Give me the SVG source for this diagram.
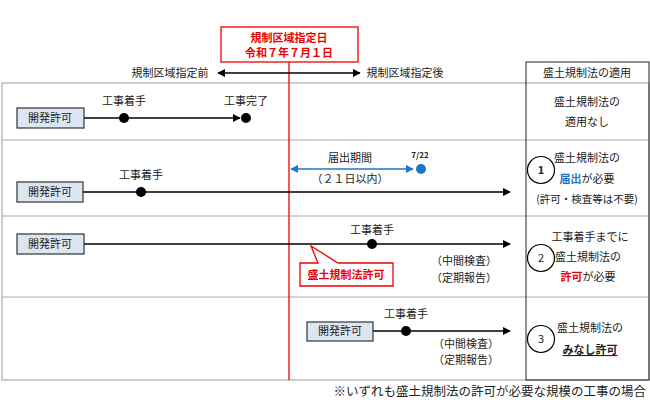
<svg xmlns="http://www.w3.org/2000/svg" width="650" height="400" viewBox="0 0 650 400">
<style>
text{font-family:"Noto Sans CJK JP","Noto Sans",sans-serif;font-size:11px;fill:#222;text-anchor:middle}
.box rect{fill:#dce6f2;stroke:#333;stroke-width:1.2}
.ln{stroke:#000;stroke-width:1.3;fill:none}
.sep{stroke:#aaa;stroke-width:1.2}
.b{font-weight:bold}
</style>
<defs>
<marker id="ah" viewBox="0 0 10 10" refX="9" refY="5" markerWidth="6" markerHeight="6" orient="auto-start-reverse"><path d="M0,0L10,5L0,10z" fill="#000"/></marker>
<marker id="ahb" viewBox="0 0 10 10" refX="9" refY="5" markerWidth="6" markerHeight="6" orient="auto-start-reverse"><path d="M0,0L10,5L0,10z" fill="#1f77c4"/></marker>
</defs>
<g id="frame">
<rect x="2" y="83" width="647" height="297" fill="none" stroke="#aaa" stroke-width="1.2"/>
<line class="sep" x1="2" y1="140" x2="649" y2="140"/>
<line class="sep" x1="2" y1="216" x2="649" y2="216"/>
<line class="sep" x1="2" y1="297" x2="649" y2="297"/>
<rect x="526" y="62" width="123" height="318" fill="none" stroke="#222" stroke-width="1"/>
<text x="587" y="77">盛土規制法の適用</text>
</g>
<g id="dateLabel">
<rect x="221" y="27" width="137" height="35" fill="#fff" stroke="#e00" stroke-width="1.3"/>
<text x="289" y="42" style="fill:#e00" class="b">規制区域指定日</text>
<text x="289" y="57" style="fill:#e00" class="b">令和７年７月１日</text>
<line x1="289" y1="62" x2="289" y2="380" stroke="#e00" stroke-width="1.3"/>
</g>
<g id="header">
<text x="170" y="77">規制区域指定前</text>
<text x="405" y="77">規制区域指定後</text>
</g>
<g id="connectors">
<line class="ln" x1="218" y1="73" x2="360" y2="73" marker-start="url(#ah)" marker-end="url(#ah)"/>
<line class="ln" x1="84" y1="118" x2="240" y2="118" marker-end="url(#ah)"/>
<line class="ln" x1="83" y1="192" x2="510" y2="192" marker-end="url(#ah)"/>
<line x1="291" y1="169" x2="413" y2="169" stroke="#1f77c4" stroke-width="1.3" marker-start="url(#ahb)" marker-end="url(#ahb)"/>
<line class="ln" x1="84" y1="244" x2="510" y2="244" marker-end="url(#ah)"/>
<line class="ln" x1="372" y1="331" x2="510" y2="331" marker-end="url(#ah)"/>
</g>
<g id="row1">
<g class="box"><rect x="17" y="108" width="67" height="20"/></g>
<text x="50" y="122">開発許可</text>
<circle cx="124" cy="118" r="5"/><circle cx="246" cy="118" r="5"/>
<text x="124" y="105">工事着手</text><text x="246" y="105">工事完了</text>
<text x="587" y="106">盛土規制法の</text><text x="587" y="126">適用なし</text>
</g>
<g id="row2">
<g class="box"><rect x="17" y="182" width="66" height="20"/></g>
<text x="50" y="196">開発許可</text>
<circle cx="141" cy="192" r="5"/>
<text x="141" y="179">工事着手</text>
<text x="350" y="162">届出期間</text><text x="350" y="183">（２１日以内）</text>
<circle cx="421" cy="169" r="5" fill="#1f77c4"/>
<text x="420" y="158" style="font-size:8px" class="b">7/22</text>
<circle cx="541" cy="170" r="13.5" fill="#fff" stroke="#000" stroke-width="1.2"/>
<text x="541" y="174" class="b">1</text>
<text x="587" y="162">盛土規制法の</text>
<text x="587" y="183"><tspan class="b" style="fill:#1f77c4">届出</tspan>が必要</text>
<text x="587" y="203" style="font-size:10.5px">(許可・検査等は不要)</text>
</g>
<g id="row3">
<g class="box"><rect x="17" y="234" width="67" height="20"/></g>
<text x="50" y="248">開発許可</text>
<circle cx="372" cy="244" r="5"/>
<text x="372" y="234">工事着手</text>
<path d="M311,246 L338,263 L393,263 L393,286 L300,286 L300,263 L318,263 Z" fill="#fff" stroke="#e00" stroke-width="1.3"/>
<text x="346" y="279" class="b" style="fill:#e00">盛土規制法許可</text>
<text x="464" y="265">（中間検査）</text><text x="464" y="282">（定期報告）</text>
<circle cx="541" cy="258" r="13.5" fill="#fff" stroke="#000" stroke-width="1.2"/>
<text x="541" y="262">2</text>
<text x="590" y="241">工事着手までに</text>
<text x="588" y="261">盛土規制法の</text>
<text x="588" y="281"><tspan class="b" style="fill:#e00">許可</tspan>が必要</text>
</g>
<g id="row4">
<g class="box"><rect x="307" y="322" width="66" height="19"/></g>
<text x="340" y="335">開発許可</text>
<circle cx="406" cy="331" r="5"/>
<text x="406" y="318">工事着手</text>
<text x="466" y="348">（中間検査）</text><text x="466" y="364">（定期報告）</text>
<circle cx="541" cy="339" r="13.5" fill="#fff" stroke="#000" stroke-width="1.2"/>
<text x="541" y="343">3</text>
<text x="590" y="332">盛土規制法の</text>
<text x="590" y="354" class="b" style="text-decoration:underline">みなし許可</text>
</g>
<text x="646" y="396" style="text-anchor:end;font-size:12.5px">※いずれも盛土規制法の許可が必要な規模の工事の場合</text>
</svg>
